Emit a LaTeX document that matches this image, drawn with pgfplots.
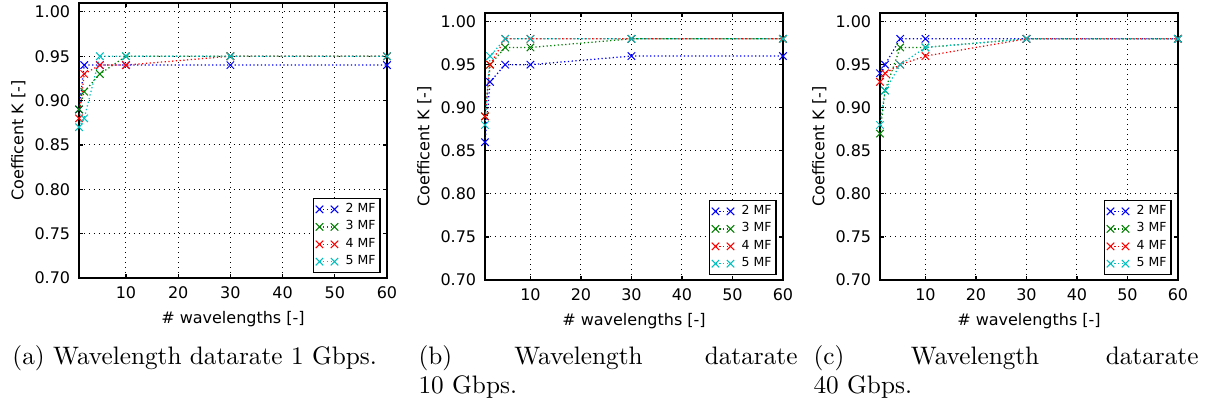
\documentclass[border=0pt]{standalone}
\usepackage{fontspec}
\usepackage{pgfplots}
\pgfplotsset{compat=1.18}
\newfontfamily\dejavu{DejaVu Sans}
\definecolor{mblue}{rgb}{0,0,1}
\definecolor{mgreen}{rgb}{0,0.5,0}
\definecolor{mred}{rgb}{1,0,0}
\definecolor{mcyan}{rgb}{0,0.75,0.75}
\pgfplotsset{
  mystyle/.style={
    scale only axis,
    xmin=1, xmax=60, ymin=0.70, ymax=1.01,
    xtick={10,20,30,40,50,60},
    ytick={0.70,0.75,0.80,0.85,0.90,0.95,1.00},
    yticklabel style={/pgf/number format/fixed, /pgf/number format/fixed zerofill, /pgf/number format/precision=2},
    /pgf/number format/assume math mode=true,
    tick label style={font=\dejavu\fontsize{6.4}{7.5}\selectfont},
    label style={font=\dejavu\fontsize{6.4}{7.5}\selectfont},
    xlabel={\# wavelengths [-]},
    ylabel={Coefficent K [-]},
    xlabel style={yshift=2pt},
    ylabel style={yshift=-3.2pt},
    grid=major,
    grid style={black, line width=0.4pt, dash pattern=on 0.4pt off 1.6pt},
    axis line style={black, line width=0.5pt},
    major tick length=1.6pt,
    tick style={black, line width=0.5pt},
    tick align=inside,
    legend style={at={(1,0)}, anchor=south east, xshift=-2.5pt, yshift=1.9pt,
      draw=black, line width=0.5pt, font=\dejavu\fontsize{5}{5.6}\selectfont,
      inner sep=1pt, row sep=0.2pt, column sep=2.2pt, nodes={inner sep=0.8pt}},
    legend cell align=left,
    legend image code/.code={\draw[#1] plot coordinates {(0pt,0pt) (6pt,0pt)};},
    every axis plot/.append style={densely dotted, line width=0.5pt, mark=x, mark size=2.1pt, mark options={solid, line width=0.4pt}},
  }
}
\begin{document}
\begin{tikzpicture}
\useasboundingbox (0,0) rectangle (488.4pt,162.8pt);
% Panel (a)
\begin{axis}[mystyle, at={(31.6pt,51.6pt)}, anchor=south west, width=123.2pt, height=110pt]
\addplot[color=mblue] coordinates {(1,0.89)(2,0.94)(5,0.94)(10,0.94)(30,0.94)(60,0.94)};
\addplot[color=mgreen] coordinates {(1,0.89)(2,0.91)(5,0.93)(10,0.95)(30,0.95)(60,0.95)};
\addplot[color=mred] coordinates {(1,0.88)(2,0.93)(5,0.94)(10,0.94)(30,0.95)(60,0.95)};
\addplot[color=mcyan] coordinates {(1,0.87)(2,0.88)(5,0.95)(10,0.95)(30,0.95)(60,0.95)};
\legend{2 MF,3 MF,4 MF,5 MF}
\end{axis}
% Panel (b)
\begin{axis}[mystyle, at={(194pt,50.8pt)}, anchor=south west, width=119.2pt, height=106.8pt]
\addplot[color=mblue] coordinates {(1,0.86)(2,0.93)(5,0.95)(10,0.95)(30,0.96)(60,0.96)};
\addplot[color=mgreen] coordinates {(1,0.89)(2,0.95)(5,0.97)(10,0.97)(30,0.98)(60,0.98)};
\addplot[color=mred] coordinates {(1,0.89)(2,0.95)(5,0.98)(10,0.98)(30,0.98)(60,0.98)};
\addplot[color=mcyan] coordinates {(1,0.88)(2,0.96)(5,0.98)(10,0.98)(30,0.98)(60,0.98)};
\legend{2 MF,3 MF,4 MF,5 MF}
\end{axis}
% Panel (c)
\begin{axis}[mystyle, at={(352pt,50.8pt)}, anchor=south west, width=119.2pt, height=106.8pt]
\addplot[color=mblue] coordinates {(1,0.94)(2,0.95)(5,0.98)(10,0.98)(30,0.98)(60,0.98)};
\addplot[color=mgreen] coordinates {(1,0.87)(2,0.92)(5,0.97)(10,0.97)(30,0.98)(60,0.98)};
\addplot[color=mred] coordinates {(1,0.93)(2,0.94)(5,0.95)(10,0.96)(30,0.98)(60,0.98)};
\addplot[color=mcyan] coordinates {(1,0.88)(2,0.92)(5,0.95)(10,0.97)(30,0.98)(60,0.98)};
\legend{2 MF,3 MF,4 MF,5 MF}
\end{axis}
% Captions
\begin{scope}[every node/.style={anchor=base west, inner sep=0pt, font=\fontsize{10.1}{12}\selectfont}]
\node at (4.8pt,16.8pt) {(a) Wavelength datarate 1 Gbps.};
\node at (167.2pt,16.8pt) {\hbox to 151.6pt{(b)\hfill Wavelength\hfill datarate}};
\node at (167.2pt,5.4pt) {10 Gbps.};
\node at (325.2pt,16.8pt) {\hbox to 154pt{(c)\hfill Wavelength\hfill datarate}};
\node at (325.2pt,5.4pt) {40 Gbps.};
\end{scope}
\end{tikzpicture}
\end{document}
